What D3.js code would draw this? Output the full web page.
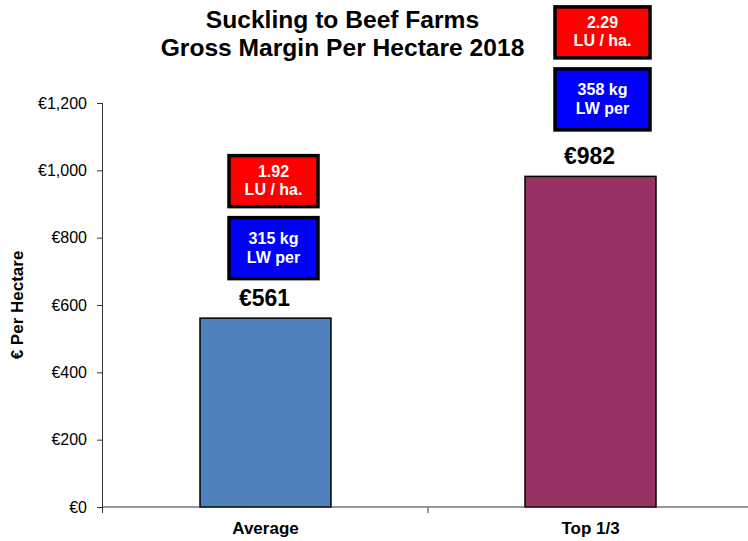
<!DOCTYPE html>
<html>
<head>
<meta charset="utf-8">
<script src="https://cdn.jsdelivr.net/npm/d3@7"></script>
<style>
  body { margin: 0; background: #fff; }
  svg { display: block; font-family: "Liberation Sans", Arial, sans-serif; }
</style>
</head>
<body>
<svg id="chart" width="748" height="541"></svg>
<script>
const categories = ["Average", "Top 1/3"];
const grossMargin = [561, 982];
const luPerHa = ["1.92", "2.29"];
const lwPerHa = ["315 kg", "358 kg"];
const yTicks = [0, 200, 400, 600, 800, 1000, 1200];
const barColors = ["#4F81BD", "#993366"];
const titleLines = ["Suckling to Beef Farms", "Gross Margin Per Hectare 2018"];

const svg = d3.select("#chart");
const W = 748, H = 541;
const plot = { left: 103, right: 753, top: 103, bottom: 507 };

const x = d3.scaleBand().domain(categories).range([plot.left, plot.right]).padding(0);
const y = d3.scaleLinear().domain([0, 1200]).range([plot.bottom, plot.top]);
const barFrac = 0.403;
const bw = x.bandwidth() * barFrac;

// Title
svg.append("g").selectAll("text").data(titleLines).join("text")
  .attr("x", 342.5).attr("y", (d, i) => 28 + i * 28)
  .attr("text-anchor", "middle")
  .attr("font-size", 24.6).attr("font-weight", "bold").attr("fill", "#000")
  .text(d => d);

// Bars
svg.append("g").selectAll("rect").data(categories).join("rect")
  .attr("x", d => x(d) + (x.bandwidth() - bw) / 2)
  .attr("y", (d, i) => y(grossMargin[i]))
  .attr("width", bw)
  .attr("height", (d, i) => y(0) - y(grossMargin[i]))
  .attr("fill", (d, i) => barColors[i])
  .attr("stroke", "#000").attr("stroke-width", 1.5);

// Y axis
const yAxis = d3.axisLeft(y).tickValues(yTicks).tickSize(6).tickPadding(10)
  .tickFormat(d => "€" + d3.format(",")(d));
const gy = svg.append("g").attr("transform", `translate(${plot.left},0)`).call(yAxis);
gy.select(".domain").attr("stroke", "#333").attr("d", `M-0.5,${plot.top}V${plot.bottom + 6}`);
gy.selectAll(".tick line").attr("stroke", "#333");
gy.selectAll(".tick text").attr("font-size", 16).attr("fill", "#000")
  .attr("font-family", "Liberation Sans, Arial, sans-serif");

// X axis (ticks at category boundaries)
const gx = svg.append("g").attr("transform", `translate(0,${plot.bottom})`);
gx.append("line").attr("x1", plot.left).attr("x2", W).attr("y1", 0).attr("y2", 0)
  .attr("stroke", "#333").attr("stroke-width", 1.2);
gx.selectAll("line.tk").data(categories.slice(1)).join("line").attr("class", "tk")
  .attr("x1", d => x(d)).attr("x2", d => x(d)).attr("y1", 0).attr("y2", 6)
  .attr("stroke", "#777").attr("stroke-width", 1.5);
gx.selectAll("text").data(categories).join("text")
  .attr("x", d => x(d) + x.bandwidth() / 2).attr("y", 27)
  .attr("text-anchor", "middle").attr("font-size", 17).attr("font-weight", "bold")
  .attr("fill", "#000").text(d => d);

// Y axis title
svg.append("text")
  .attr("transform", `translate(23,${(plot.top + plot.bottom) / 2}) rotate(-90)`)
  .attr("text-anchor", "middle").attr("font-size", 17).attr("font-weight", "bold")
  .text("€ Per Hectare");

// Value labels
svg.append("g").selectAll("text").data(categories).join("text")
  .attr("x", d => x(d) + x.bandwidth() / 2 - 1)
  .attr("y", (d, i) => y(grossMargin[i]) - 12)
  .attr("text-anchor", "middle").attr("font-size", 23).attr("font-weight", "bold")
  .attr("fill", "#000").text((d, i) => "€" + grossMargin[i]);

// Annotation boxes
const boxDx = [8, 12];
const boxDy = [38, 45];
const boxW = [92, 98];
categories.forEach((c, i) => {
  const cx = x(c) + x.bandwidth() / 2 + boxDx[i];
  const blueBottom = y(grossMargin[i]) - boxDy[i];
  const blueTop = blueBottom - 64;
  const redBottom = blueTop - 8;
  const redTop = redBottom - 54;
  const g = svg.append("g");
  const boxes = [
    { top: blueTop, h: 64, fill: "#0000FF", lines: [lwPerHa[i], "LW per"], base: [28, 47] },
    { top: redTop, h: 54, fill: "#FF0000", lines: [luPerHa[i], "LU / ha."], base: [23, 41] }
  ];
  boxes.forEach(b => {
    g.append("rect")
      .attr("x", cx - boxW[i] / 2 + 1.5).attr("y", b.top + 1.5)
      .attr("width", boxW[i] - 3).attr("height", b.h - 3)
      .attr("fill", b.fill).attr("stroke", "#000").attr("stroke-width", 3.5);
    g.selectAll(null).data(b.lines).join("text")
      .attr("x", cx).attr("y", (d, k) => b.top + b.base[k])
      .attr("text-anchor", "middle").attr("font-size", 16).attr("font-weight", "bold")
      .attr("fill", "#fff").text(d => d);
  });
});
</script>
</body>
</html>
